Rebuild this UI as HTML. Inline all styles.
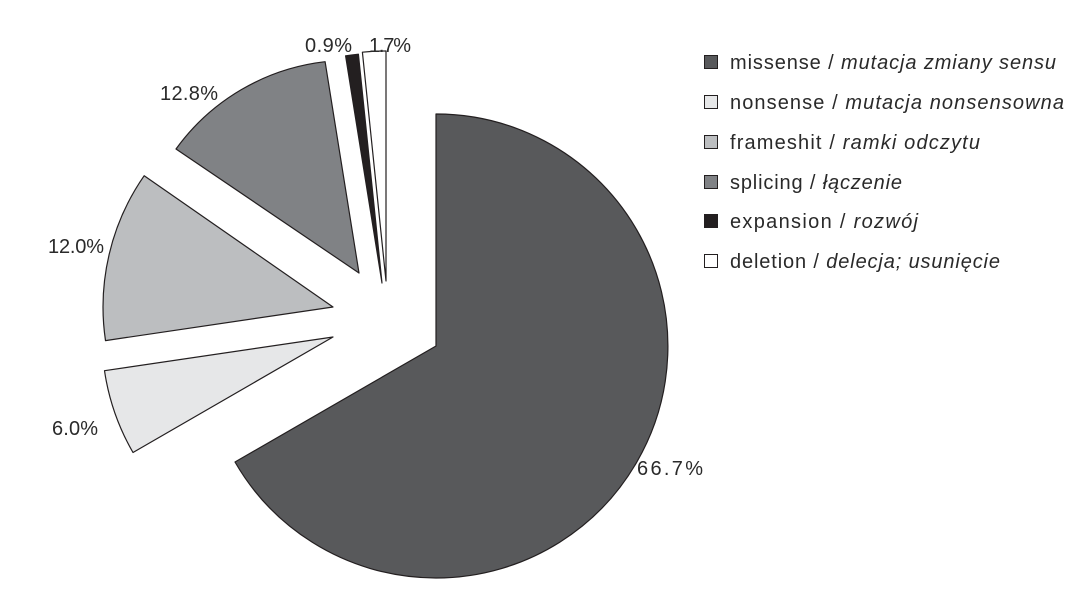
<!DOCTYPE html>
<html><head><meta charset="utf-8"><style>
html,body{margin:0;padding:0;background:#fff;}
svg{display:block;}
text{font-family:"Liberation Sans",sans-serif;fill:#2a2a2a;}
</style></head><body>
<svg width="1081" height="601" viewBox="0 0 1081 601" xmlns="http://www.w3.org/2000/svg">
<g stroke="#231f20" stroke-width="1.2" stroke-linejoin="round">
<path d="M436,346 L436,114 A232,232 0 1 1 235,462 Z" fill="#58595b"/>
<path d="M333,337 L104.5,370.7 A231,231 0 0 0 133,452.5 Z" fill="#e6e7e8"/>
<path d="M333,307 L144.2,175.7 A230,230 0 0 0 105.5,340.6 Z" fill="#bcbec0"/>
<path d="M359,273 L325.1,61.7 A214,214 0 0 0 176,149 Z" fill="#808285"/>
<path d="M382,283 L345.6,55.9 A230,230 0 0 1 358.4,54.2 Z" fill="#231f20"/>
<path d="M386,281 L362.4,52.2 A230,230 0 0 1 386,51 Z" fill="#ffffff"/>
</g>
<g font-size="20">
<text x="637" y="475" textLength="66" lengthAdjust="spacing">66.7%</text>
<text x="52" y="435" textLength="46" lengthAdjust="spacing">6.0%</text>
<text x="48" y="253" textLength="56" lengthAdjust="spacing">12.0%</text>
<text x="160" y="100" textLength="58" lengthAdjust="spacing">12.8%</text>
<text x="305" y="52" textLength="47" lengthAdjust="spacing">0.9%</text>
<text x="369" y="52" textLength="42" lengthAdjust="spacing">1.7%</text>
</g>
<g stroke="#231f20" stroke-width="1">
<rect x="704.5" y="55.5" width="13" height="13" fill="#58595b"/>
<rect x="704.5" y="95.5" width="13" height="13" fill="#e6e7e8"/>
<rect x="704.5" y="135.5" width="13" height="13" fill="#bcbec0"/>
<rect x="704.5" y="175.5" width="13" height="13" fill="#808285"/>
<rect x="704.5" y="214.5" width="13" height="13" fill="#231f20"/>
<rect x="704.5" y="254.5" width="13" height="13" fill="#ffffff"/>
</g>
<g font-size="20">
<text x="730" y="69" textLength="326" lengthAdjust="spacing">missense / <tspan font-style="italic">mutacja zmiany sensu</tspan></text>
<text x="730" y="109" textLength="334" lengthAdjust="spacing">nonsense / <tspan font-style="italic">mutacja nonsensowna</tspan></text>
<text x="730" y="149" textLength="250" lengthAdjust="spacing">frameshit / <tspan font-style="italic">ramki odczytu</tspan></text>
<text x="730" y="189" textLength="172" lengthAdjust="spacing">splicing / <tspan font-style="italic">łączenie</tspan></text>
<text x="730" y="228" textLength="188" lengthAdjust="spacing">expansion / <tspan font-style="italic">rozwój</tspan></text>
<text x="730" y="268" textLength="270" lengthAdjust="spacing">deletion / <tspan font-style="italic">delecja; usunięcie</tspan></text>
</g>
</svg>
</body></html>
